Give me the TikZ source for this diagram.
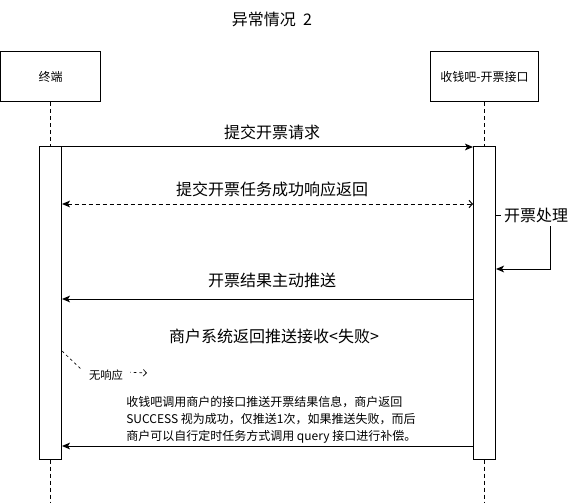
\documentclass[tikz,border=0pt]{standalone}
\usepackage{fontspec}
\setmainfont{Noto Sans CJK SC}
\usetikzlibrary{arrows.meta, positioning, calc}

\begin{document}
\begin{tikzpicture}[
    x=0.75pt, y=-0.75pt,
    % Node styles
    actor/.style={
        rectangle,
        draw=black,
        fill=white,
        line width=0.75pt,
        minimum height=37.5pt,
        font=\fontsize{9}{11}\selectfont
    },
    bar/.style={
        rectangle,
        draw=black,
        fill=white,
        line width=0.75pt,
        minimum width=16.5pt,
        minimum height=234pt
    },
    lifeline/.style={
        line width=0.75pt,
        dash pattern=on 3pt off 2.25pt
    },
    msglabel/.style={
        font=\fontsize{12}{14}\selectfont,
        inner sep=1pt
    },
    msg/.style={
        -{Stealth[length=6pt,width=5pt,inset=1.5pt]},
        line width=0.75pt
    },
    reply/.style={
        {Stealth[length=6pt,width=5pt,inset=1.5pt]}-{Straight Barb[length=2.5pt,width=5.5pt]},
        line width=0.75pt,
        dash pattern=on 3pt off 2.25pt
    },
    noteline/.style={
        -{Straight Barb[length=2.5pt,width=5pt]},
        line width=0.5pt,
        dash pattern=on 2pt off 2.25pt
    }
]
\useasboundingbox (0,0) rectangle (573,502);

% --- Title ---
\node[msglabel] (title) at (272,19) {异常情况\ \ 2};

% --- Participants ---
\node[actor, minimum width=75pt] (term) at (50.5,77) {终端};
\node[actor, minimum width=81pt] (api) at (484.5,77) {收钱吧-开票接口};

\coordinate (termend) at (50.5,502);
\coordinate (apiend) at (484.5,502);
\draw[lifeline] (term.south) -- (termend);
\draw[lifeline] (api.south) -- (apiend);

\node[bar] (termbar) at (50.5,303) {};
\node[bar] (apibar) at (484.5,303) {};

% --- Message rows ---
\coordinate (r1) at (0,147);
\coordinate (r2) at (0,204);
\coordinate (r3) at (0,215);
\coordinate (r3b) at (0,269);
\coordinate (r4) at (0,299);
\coordinate (r5) at (0,351);
\coordinate (r6) at (0,446);

% --- Messages ---
\draw[msg] (termbar.east |- r1) -- (apibar.west |- r1);
\node[msglabel] (m1) at (272,132) {提交开票请求};

\draw[reply] (termbar.east |- r2) -- (apibar.west |- r2);
\node[msglabel] (m2) at (272,189) {提交开票任务成功响应返回};

\draw[msg] (apibar.east |- r3) -- ++(54,0) |- (apibar.east |- r3b);
\node[msglabel, fill=white, inner sep=2pt] (proc) at (536,215.5) {开票处理};

\draw[msg] (apibar.west |- r4) -- (termbar.east |- r4);
\node[msglabel] (m3) at (272,280) {开票结果主动推送};

\node[msglabel] (m4) at (274,336) {商户系统返回推送接收<失败>};

\coordinate (nobend) at (82,370);
\coordinate (noend) at (147,373);
\draw[noteline] (termbar.east |- r5) -- (nobend) -- (noend);
\node[fill=white, inner ysep=2pt, inner xsep=5pt, font=\fontsize{8.5}{10}\selectfont] (noresp) at (106,375) {无响应};

\node[anchor=west, align=left, inner sep=0pt, font=\fontsize{9}{12.75}\selectfont] (note) at (126,420)
    {收钱吧调用商户的接口推送开票结果信息，商户返回\\
     SUCCESS 视为成功，仅推送1次，如果推送失败，而后\\
     商户可以自行定时任务方式调用 query 接口进行补偿。};

\draw[msg] (apibar.west |- r6) -- (termbar.east |- r6);

\end{tikzpicture}
\end{document}
